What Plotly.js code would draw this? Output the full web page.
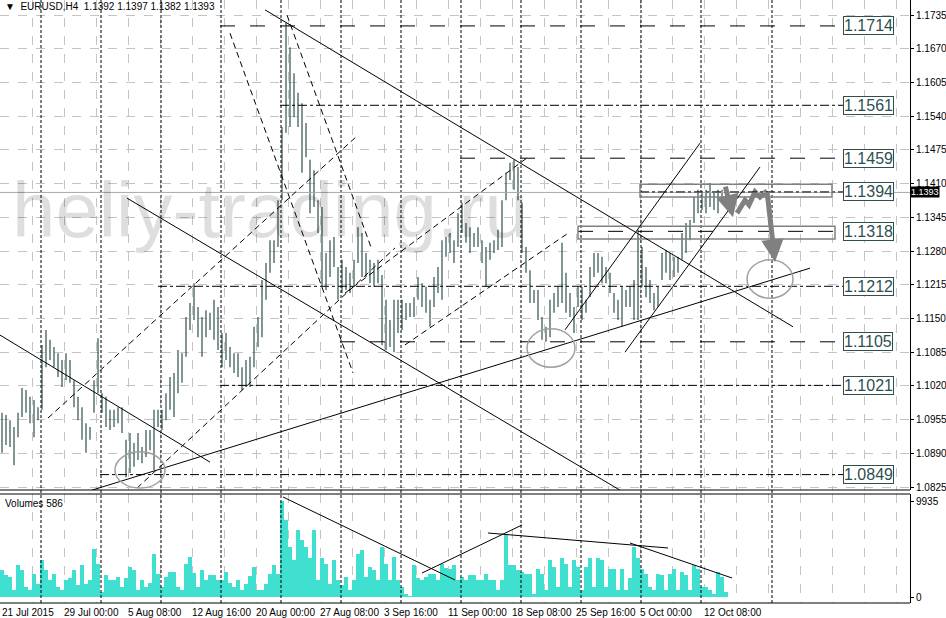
<!DOCTYPE html>
<html><head><meta charset="utf-8">
<script src="https://cdn.plot.ly/plotly-3.0.1.min.js"></script>
<style>html,body{margin:0;padding:0;background:#fff}#chart{width:946px;height:618px}</style>
</head><body><div id="chart"></div>
<script>
// ---- data (each bar below = 8 hours of EURUSD H4 history) ----
const high = [
1.0968,1.0964,1.0954,1.0941,1.0968,1.1016,1.1012,1.0999,1.0993,1.0979,
1.1099,1.1128,1.1109,1.1095,1.1083,1.1070,1.1083,1.1070,1.1031,1.0999,
1.0979,1.0948,1.0941,1.1031,1.1112,1.1006,1.0999,1.0974,1.0974,1.0979,
1.0979,1.0916,1.0929,1.0910,1.0929,1.0902,1.0935,1.0935,1.0974,1.0974,
1.0974,1.1006,1.1037,1.1045,1.1089,1.1083,1.1153,1.1180,1.1218,1.1172,
1.1153,1.1166,1.1161,1.1186,1.1172,1.1122,1.1122,1.1095,1.1083,1.1083,
1.1056,1.1070,1.1076,1.1134,1.1153,1.1224,1.1257,1.1301,1.1301,1.1378,
1.1519,1.1720,1.1673,1.1623,1.1585,1.1565,1.1527,1.1456,1.1436,1.1378,
1.1365,1.1276,1.1301,1.1307,1.1249,1.1263,1.1249,1.1238,1.1263,1.1326,
1.1315,1.1276,1.1263,1.1257,1.1263,1.1234,1.1186,1.1147,1.1186,1.1186,
1.1186,1.1180,1.1180,1.1191,1.1230,1.1218,1.1211,1.1186,1.1230,1.1249,
1.1301,1.1307,1.1315,1.1301,1.1353,1.1373,1.1334,1.1326,1.1315,1.1326,
1.1301,1.1288,1.1296,1.1301,1.1321,1.1378,1.1431,1.1450,1.1456,1.1442,
1.1373,1.1288,1.1243,1.1205,1.1205,1.1153,1.1134,1.1186,1.1199,1.1211,
1.1296,1.1238,1.1199,1.1172,1.1211,1.1211,1.1186,1.1249,1.1276,1.1276,
1.1269,1.1249,1.1238,1.1199,1.1186,1.1211,1.1205,1.1211,1.1224,1.1321,
1.1288,1.1249,1.1224,1.1199,1.1211,1.1276,1.1282,1.1276,1.1269,1.1269,
1.1315,1.1334,1.1340,1.1384,1.1398,1.1392,1.1398,1.1411,1.1392,1.1398,
1.1398,1.1397];
const low = [
1.0891,1.0906,1.0902,1.0867,1.0921,1.0960,1.0968,1.0948,1.0921,1.0954,
1.0974,1.1056,1.1070,1.1056,1.1037,1.1018,1.1031,1.1026,1.0979,1.0954,
1.0916,1.0891,1.0916,1.0968,1.1006,1.0968,1.0941,1.0935,1.0941,1.0948,
1.0929,1.0844,1.0852,1.0864,1.0877,1.0871,1.0883,1.0896,1.0858,1.0941,
1.0935,1.0954,1.0974,1.0960,1.1006,1.1026,1.1076,1.1128,1.1147,1.1114,
1.1076,1.1114,1.1128,1.1109,1.1089,1.1056,1.1070,1.1056,1.1045,1.1037,
1.1012,1.1018,1.1018,1.1056,1.1095,1.1114,1.1186,1.1238,1.1257,1.1288,
1.1378,1.1508,1.1519,1.1538,1.1519,1.1431,1.1461,1.1353,1.1365,1.1315,
1.1211,1.1205,1.1230,1.1249,1.1186,1.1199,1.1205,1.1199,1.1211,1.1257,
1.1230,1.1230,1.1218,1.1211,1.1218,1.1099,1.1089,1.1095,1.1085,1.1122,
1.1128,1.1147,1.1153,1.1153,1.1186,1.1172,1.1161,1.1134,1.1172,1.1199,
1.1186,1.1269,1.1276,1.1257,1.1288,1.1315,1.1296,1.1276,1.1288,1.1288,
1.1257,1.1211,1.1263,1.1276,1.1282,1.1288,1.1378,1.1417,1.1398,1.1378,
1.1276,1.1238,1.1180,1.1180,1.1147,1.1109,1.1105,1.1114,1.1161,1.1172,
1.1180,1.1161,1.1153,1.1122,1.1172,1.1147,1.1161,1.1191,1.1230,1.1238,
1.1218,1.1218,1.1199,1.1161,1.1147,1.1134,1.1172,1.1172,1.1147,1.1147,
1.1211,1.1191,1.1180,1.1166,1.1172,1.1224,1.1238,1.1224,1.1230,1.1238,
1.1263,1.1276,1.1301,1.1334,1.1353,1.1359,1.1353,1.1365,1.1359,1.1353,
1.1373,1.1382];
const volume = [
2760,2240,2070,700,3280,2800,1000,700,2410,1370,
3800,2760,1720,2410,1030,680,1720,2000,2760,1200,
3280,1370,1720,5010,3450,500,2240,1720,1720,2070,
1030,2000,3100,2760,680,1720,1030,1500,4490,2410,
1030,2070,2590,2590,1030,680,3450,4160,2500,1030,
2760,1720,2240,2240,1720,1720,2590,1500,1030,1720,
680,1370,2200,3100,680,680,1370,2410,3280,2410,
9935,7960,5180,3800,6920,5870,5180,4000,6970,1720,
4000,3450,1370,3800,1720,1200,2070,680,1720,4490,
4840,2070,3100,2760,1720,5180,3450,1720,4160,1720,
1030,330,100,3280,2000,1720,2070,2410,2410,1720,
3450,3000,2930,3280,1720,2070,1720,2240,2240,1720,
1720,2410,1720,1720,680,1720,6400,3280,3280,2760,
2590,2410,2410,330,2930,2410,680,3800,3100,1030,
3990,3450,1030,3800,3100,680,3100,3990,1030,3990,
3800,1030,2930,2930,680,2930,680,2000,5200,3990,
2930,2410,1000,680,2410,2240,680,2410,2930,680,
2590,2240,680,3280,2930,1030,1030,680,330,2590,
2070,500];

const xLabels = ["21 Jul 2015","29 Jul 00:00","5 Aug 08:00","12 Aug 16:00","20 Aug 00:00","27 Aug 08:00","3 Sep 16:00","11 Sep 00:00","18 Sep 08:00","25 Sep 16:00","5 Oct 00:00","12 Oct 08:00"];
const xLabelBars = [-0.5,15,31,47,63,79,95,111,127,143,159,175];
const weekSeparators = [9.75,24.75,39.75,54.75,69.75,84.75,99.75,114.75,129.75,144.75,159.75,174.75,192.5];
const priceTicks = [1.0825,1.0890,1.0955,1.1020,1.1085,1.1150,1.1215,1.1280,1.1345,1.1410,1.1475,1.1540,1.1605,1.1670,1.1735];

const levelValues = [1.1714,1.1561,1.1459,1.1394,1.1318,1.1212,1.1105,1.1021,1.0849];
const levelStarts = [54.5,69.5,114.5,159.5,144,39,84.5,54.5,24.5];
const levelDash = ['longdash','dashdot','longdash','dashdot','longdash','dashdot','longdash','dashdot','dashdot'];
const levelEnd = 210.25;

// trend lines [bar0, price0, bar1, price1]
const solidTrendLines = [
  [65.75,1.1745,197.75,1.1134],
  [-0.5,1.1118,52,1.0873],
  [31.25,1.1382,154.5,1.0819],
  [22.5,1.0819,202,1.1247],
  [140.75,1.1128,174.5,1.1488],
  [155.75,1.1085,189.5,1.1442]
];
const dashedTrendLines = [
  [11.5,1.0958,88.5,1.1500],
  [33.75,1.0823,98.25,1.1286],
  [85.75,1.1199,131.5,1.1461],
  [100.75,1.1099,142,1.1317],
  [57,1.1700,87.75,1.1045],
  [71.25,1.1735,92.5,1.1282]
];
const volumeTrendLines = [
  [70.25,10350,113.25,1760],
  [105,2484,130,7452],
  [121.5,6624,166.5,5072],
  [157,5589,182.5,1967]
];
const zoneRects = [[159.5,1.1409,207.5,1.1384],[144,1.1328,208.25,1.1303]];
const ellipses = [[28.25,1.0823,40.75,1.0893],[131.25,1.1056,143.25,1.1130],[186.25,1.1189,197.75,1.1263]];
const forecastX = [183.75,185.75,186.75,188.25,189.5,191.25];
const forecastY = [1.1353,1.1378,1.1369,1.1394,1.1384,1.1396];
const forecastArrows = [[180.75,1.1407,182.75,1.1345],[191.25,1.1396,193.25,1.1259]];
const bid = 1.1393;
const volLast = 586;

// ---- build ----
const bars = high.map((_, i) => i);
const bx = [], by = [];
bars.forEach(i => { bx.push(i, i, null); by.push(low[i], high[i], null); });

const traces = [
  {type:'scatter', mode:'lines', x:bx, y:by, line:{color:'#2F4F4F', width:1.2}, hoverinfo:'skip', xaxis:'x', yaxis:'y'},
  {type:'bar', x:bars, y:volume, width:1, marker:{color:'#40E0D0', line:{width:0}}, hoverinfo:'skip', xaxis:'x', yaxis:'y2'},
  {type:'scatter', mode:'lines', x:forecastX, y:forecastY, line:{color:'#808080', width:5}, hoverinfo:'skip', xaxis:'x', yaxis:'y'}
];

const shapes = [];
const gridX = [];
for (let m = 0; m <= 28; m++) gridX.push(8*m - 0.5);

weekSeparators.forEach(x => shapes.push({type:'line', xref:'x', yref:'paper', x0:x, x1:x, y0:0, y1:1, line:{color:'#000', width:1, dash:'3px,2px'}}));
shapes.push({type:'line', xref:'x', yref:'y', x0:-0.5, x1:227, y0:bid, y1:bid, line:{color:'#A8A8A8', width:1}});
levelValues.forEach((v, i) => shapes.push({type:'line', xref:'x', yref:'y', x0:levelStarts[i], x1:levelEnd, y0:v, y1:v, line:{color:'#000', width:1, dash:levelDash[i]}}));
zoneRects.forEach(r => shapes.push({type:'rect', xref:'x', yref:'y', x0:r[0], x1:r[2], y0:r[1], y1:r[3], line:{color:'#808080', width:1.5}}));
solidTrendLines.forEach(l => shapes.push({type:'line', xref:'x', yref:'y', x0:l[0], y0:l[1], x1:l[2], y1:l[3], line:{color:'#000', width:1}}));
dashedTrendLines.forEach(l => shapes.push({type:'line', xref:'x', yref:'y', x0:l[0], y0:l[1], x1:l[2], y1:l[3], line:{color:'#000', width:1, dash:'6px,4px'}}));
volumeTrendLines.forEach(l => shapes.push({type:'line', xref:'x', yref:'y2', x0:l[0], y0:l[1], x1:l[2], y1:l[3], line:{color:'#000', width:1}}));
ellipses.forEach(e => shapes.push({type:'circle', xref:'x', yref:'y', x0:e[0], y0:e[1], x1:e[2], y1:e[3], line:{color:'#A0A0A0', width:1.5}}));
// panel frames
const mainBottom = 1 - 490/603, volTop = 109/603;
shapes.push({type:'line', xref:'paper', yref:'paper', x0:0, x1:1, y0:mainBottom, y1:mainBottom, line:{color:'#000', width:1}});
shapes.push({type:'line', xref:'paper', yref:'paper', x0:0, x1:1, y0:volTop, y1:volTop, line:{color:'#000', width:1}});
shapes.push({type:'line', xref:'paper', yref:'paper', x0:0, x1:1, y0:0, y1:0, line:{color:'#000', width:1}});

const annotations = [];
annotations.push({xref:'paper', yref:'paper', x:0.2967, y:0.652, xanchor:'center', yanchor:'middle', showarrow:false,
  text:'heliy-trading.ru', font:{family:'Liberation Sans, Arial, sans-serif', size:78, color:'rgba(0,0,0,0.13)'}});
levelValues.forEach(v => annotations.push({xref:'x', yref:'y', x:levelEnd, y:v, xanchor:'left', yanchor:'middle', showarrow:false,
  text:v.toFixed(4), font:{family:'Liberation Sans, Arial, sans-serif', size:16, color:'#2F4F4F'},
  bgcolor:'#fff', bordercolor:'#2F4F4F', borderwidth:1, borderpad:0}));
forecastArrows.forEach(a => annotations.push({xref:'x', yref:'y', axref:'x', ayref:'y', x:a[2], y:a[3], ax:a[0], ay:a[1],
  showarrow:true, arrowhead:2, arrowsize:0.9, arrowwidth:5, arrowcolor:'#808080', standoff:0, text:''}));
xLabels.forEach((t, i) => annotations.push({xref:'x', yref:'paper', x:xLabelBars[i], y:-9/603, xanchor:'left', yanchor:'middle', showarrow:false,
  text:t, font:{size:10, color:'#000'}}));
annotations.push({xref:'paper', yref:'paper', x:0.003, y:1 - 7/603, xanchor:'left', yanchor:'middle', showarrow:false,
  text:'\u25BC\u00A0\u00A0EURUSD,H4\u00A0\u00A01.1392\u00A01.1397\u00A01.1382\u00A01.1393', font:{size:10, color:'#000'}});
annotations.push({xref:'paper', yref:'paper', x:0.003, y:(603-503)/603, xanchor:'left', yanchor:'middle', showarrow:false,
  text:'Volumes\u00A0' + volLast, font:{size:10, color:'#000'}});
annotations.push({xref:'paper', yref:'y', x:1, y:bid, xanchor:'left', yanchor:'middle', showarrow:false,
  text:bid.toFixed(4), font:{size:9, color:'#fff'}, bgcolor:'#000', borderpad:0});

const layout = {
  width:946, height:618, margin:{l:0, r:36, t:0, b:15},
  paper_bgcolor:'#fff', plot_bgcolor:'#fff', showlegend:false, bargap:0,
  font:{family:'Liberation Sans, Arial, sans-serif', size:10, color:'#000'},
  xaxis:{range:[-0.5,227], domain:[0,1], anchor:'y2', tickmode:'array', tickvals:gridX, showticklabels:false, ticks:'',
    showgrid:true, gridcolor:'#C4C4C4', griddash:'dash', gridwidth:1, zeroline:false, showline:false, fixedrange:true},
  yaxis:{domain:[mainBottom,1], range:[1.08193,1.1764], side:'right', anchor:'x', tickmode:'array', tickvals:priceTicks,
    ticktext:priceTicks.map(v => v.toFixed(4)), ticks:'outside', ticklen:3, tickcolor:'#000',
    showgrid:true, gridcolor:'#C4C4C4', griddash:'dash', gridwidth:1, zeroline:false, showline:true, linecolor:'#000', linewidth:1},
  yaxis2:{domain:[0,volTop], range:[-621,10660], side:'right', anchor:'x', tickmode:'array', tickvals:[0,9935],
    ticktext:['0','9935'], ticks:'outside', ticklen:3, tickcolor:'#000', showgrid:false, zeroline:false,
    showline:true, linecolor:'#000', linewidth:1},
  shapes:shapes, annotations:annotations
};
Plotly.newPlot('chart', traces, layout, {staticPlot:true, displayModeBar:false});
</script></body></html>
